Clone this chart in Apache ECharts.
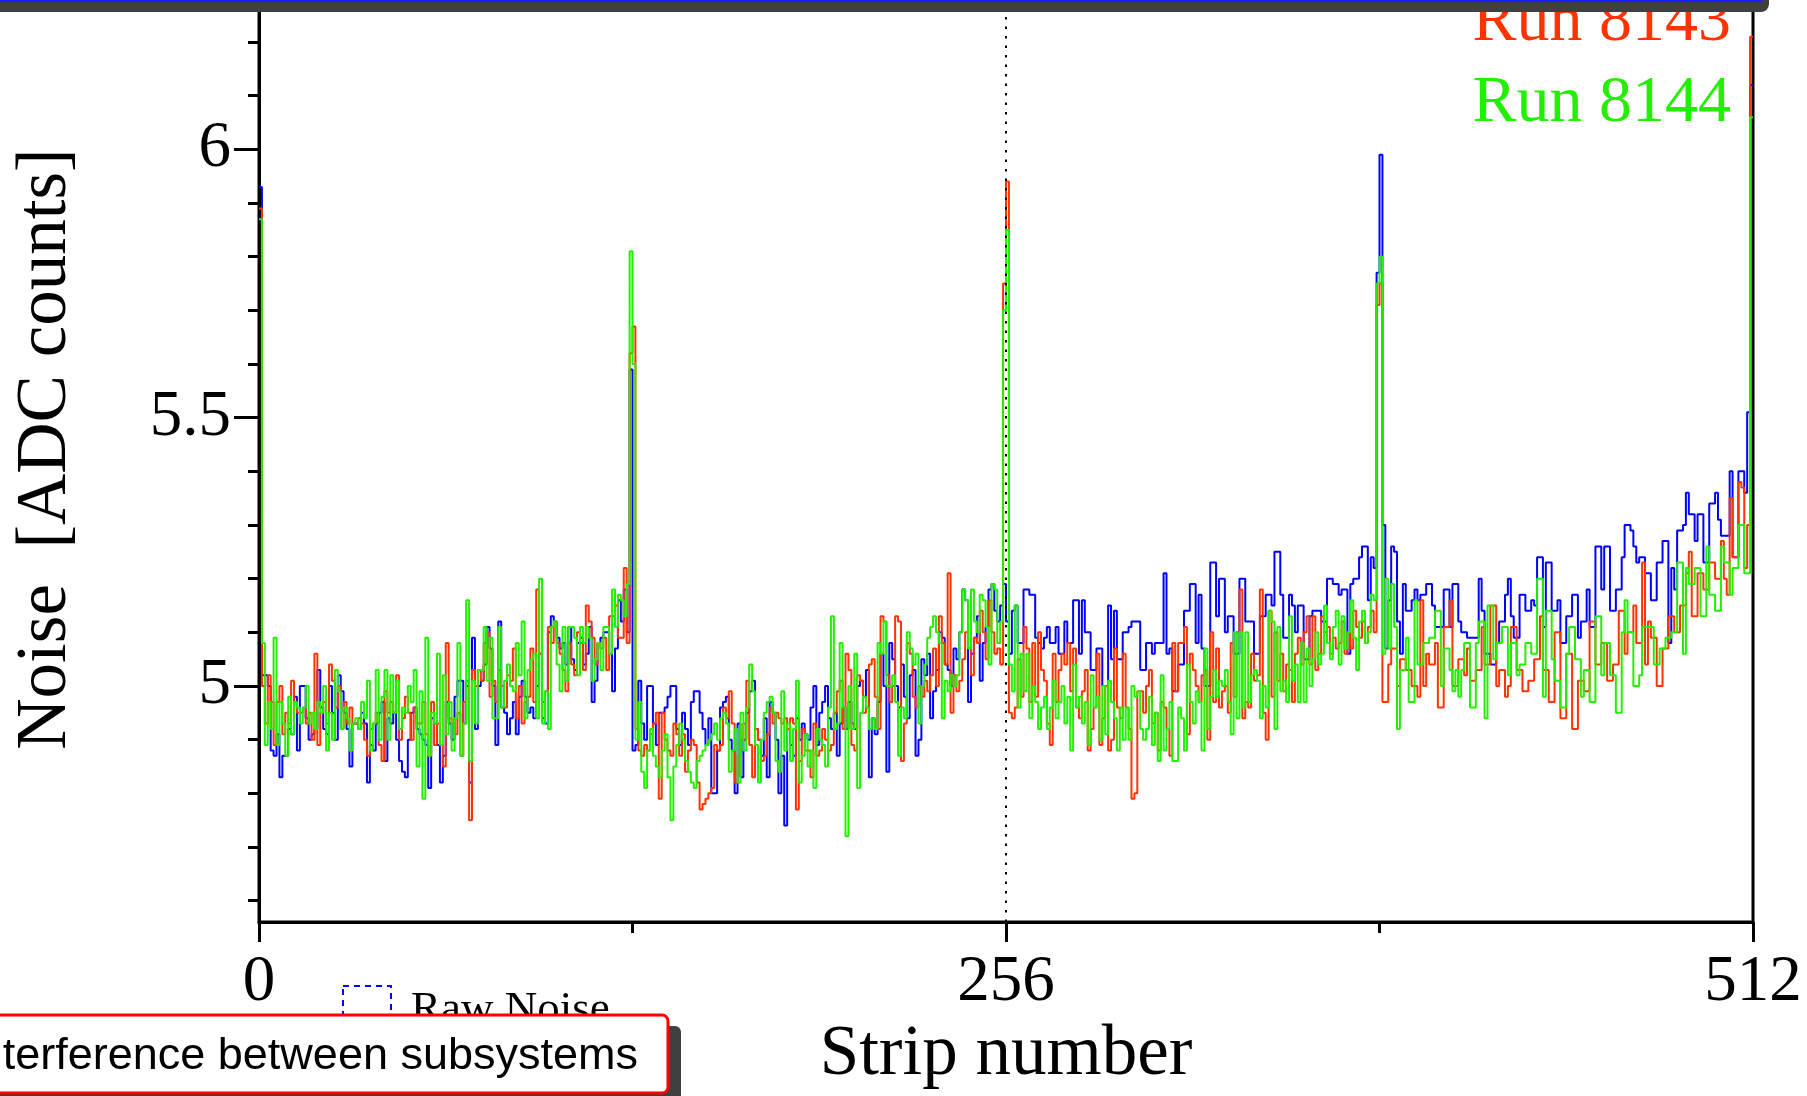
<!DOCTYPE html>
<html><head><meta charset="utf-8">
<script src="https://cdn.jsdelivr.net/npm/echarts@6/dist/echarts.min.js"></script>
<style>html,body{margin:0;padding:0;background:#fff;overflow:hidden}#c{width:1807px;height:1096px}</style>
</head><body><div id="c"></div>
<script>
// ---- data: noise per strip (bins 0..511) ----
const xTickValues = [0, 256, 512];
const yTickValues = [5, 5.5, 6];
const yMinorTickValues = [4.6, 4.7, 4.8, 4.9, 5.1, 5.2, 5.3, 5.4, 5.6, 5.7, 5.8, 5.9, 6.1, 6.2];
const seriesNames = ['Raw Noise', 'Run 8143', 'Run 8144'];
const seriesColors = ['#0000ff', '#ff3300', '#22f000'];

const rawNoise = [
5.93,5.02,5.02,5.00,4.88,4.87,4.91,4.83,4.87,4.87,
4.92,4.91,4.98,4.88,5.00,5.00,4.94,4.90,4.91,4.92,
5.03,4.96,4.92,4.91,5.00,4.95,4.90,5.02,4.99,4.95,
4.92,4.85,4.93,4.93,4.92,4.95,4.93,4.82,4.89,4.88,
4.93,4.95,4.97,4.86,4.94,4.93,4.95,4.90,4.86,4.84,
4.83,4.90,4.95,4.96,4.92,4.91,4.90,4.89,4.81,4.94,
4.93,4.89,4.82,4.87,4.97,4.93,4.90,4.98,5.01,5.01,
4.93,5.00,4.82,5.09,4.92,5.00,5.01,5.04,5.11,5.07,
5.00,4.89,5.12,4.96,4.95,4.91,4.94,4.97,4.91,4.98,
5.01,4.98,4.95,4.96,4.94,5.00,5.06,4.94,4.93,5.10,
5.13,5.12,5.09,5.07,5.08,5.04,5.11,5.05,5.03,5.08,
5.09,5.04,5.06,5.11,4.97,5.01,5.08,5.09,5.10,5.10,
5.06,4.99,5.07,5.16,5.12,5.18,5.10,5.59,4.88,4.89,
5.01,4.93,4.90,5.00,5.00,4.93,4.89,4.95,4.95,4.96,
4.98,5.00,5.00,4.92,4.89,4.95,4.92,4.89,4.97,4.99,
4.99,4.95,4.92,4.89,4.94,4.80,4.80,4.88,4.96,4.97,
4.98,4.90,4.88,4.80,4.93,4.83,4.90,4.95,4.99,5.01,
4.92,4.90,4.87,4.94,4.83,4.97,4.95,4.90,4.80,4.87,
4.74,4.92,4.89,4.87,4.94,4.90,4.93,4.91,4.90,4.96,
5.00,4.89,4.95,4.97,5.00,4.94,4.92,4.95,4.87,4.93,
4.96,4.92,4.97,4.93,4.92,5.00,5.01,4.98,5.03,4.83,
4.94,4.91,4.97,5.06,5.00,4.84,5.08,5.05,5.00,4.96,
5.04,4.98,4.94,5.02,5.03,4.87,4.90,5.05,5.02,5.06,
4.94,4.99,5.03,5.10,5.09,5.04,5.03,5.00,5.07,5.05,
5.10,5.18,5.16,4.97,5.06,5.09,5.13,5.01,5.08,5.11,
5.18,5.19,5.14,5.12,5.15,5.19,5.12,5.06,5.14,5.15,
5.08,5.08,5.18,5.18,5.17,5.17,5.09,5.08,5.07,5.09,
5.11,5.08,5.08,5.11,5.06,5.06,5.12,5.08,5.08,5.16,
5.16,5.06,5.16,5.10,5.10,5.03,5.03,5.07,5.07,5.00,
5.00,5.15,5.05,5.14,5.05,5.05,5.10,5.10,5.11,5.12,
5.12,5.12,5.03,5.03,5.08,5.08,5.06,5.08,5.08,5.08,
5.21,5.06,5.07,4.99,4.99,5.04,5.04,5.14,5.14,5.19,
5.19,5.08,5.17,5.07,5.00,5.00,5.23,5.23,5.13,5.20,
5.20,5.10,5.13,5.13,5.06,5.06,5.20,5.20,5.12,5.12,
5.12,5.06,5.06,5.13,5.13,5.17,5.17,5.15,5.25,5.25,
5.17,5.09,5.09,5.17,5.15,5.10,5.15,5.15,5.05,5.05,
5.13,5.14,5.14,5.14,5.12,5.12,5.20,5.20,5.19,5.19,
5.17,5.18,5.18,5.06,5.19,5.20,5.20,5.24,5.26,5.26,
5.16,5.24,5.22,5.77,5.99,5.30,5.07,5.16,5.26,5.25,
5.12,5.06,5.19,5.14,5.14,5.16,5.18,5.16,5.17,5.17,
5.19,5.19,5.15,5.11,5.11,5.11,5.18,5.18,5.11,5.19,
5.19,5.12,5.10,5.10,5.09,5.09,5.09,5.09,5.20,5.14,
5.06,5.06,5.04,5.04,5.08,5.12,5.12,5.17,5.20,5.13,
5.09,5.09,5.17,5.17,5.14,5.14,5.16,5.15,5.24,5.24,
5.11,5.23,5.23,5.14,5.14,5.16,5.08,5.08,5.13,5.13,
5.17,5.17,5.09,5.12,5.12,5.18,5.11,5.11,5.26,5.26,
5.18,5.26,5.26,5.14,5.14,5.18,5.18,5.24,5.30,5.30,
5.29,5.26,5.23,5.24,5.24,5.21,5.21,5.16,5.16,5.23,
5.23,5.27,5.27,5.08,5.22,5.18,5.29,5.29,5.30,5.36,
5.32,5.32,5.27,5.32,5.32,5.23,5.23,5.34,5.34,5.36,
5.31,5.28,5.28,5.28,5.40,5.24,5.24,5.40,5.40,5.36,
5.51,6.12];

const run8143 = [
5.89,5.00,4.93,5.02,4.97,4.89,4.97,5.00,4.91,4.95,
4.93,5.01,4.97,4.95,4.95,4.96,4.93,4.95,4.90,5.06,
4.89,4.95,4.97,4.93,5.04,5.01,4.96,5.00,4.92,4.97,
4.93,4.96,4.93,4.93,4.94,4.93,4.90,4.87,4.92,4.93,
4.95,4.89,4.86,4.99,4.95,4.97,4.95,5.02,4.90,4.94,
4.98,4.95,4.90,4.96,4.93,4.93,4.97,4.91,4.87,4.97,
4.89,4.93,4.89,4.85,5.08,4.94,4.93,4.91,4.95,4.87,
4.97,5.01,4.75,5.03,5.00,5.03,5.01,5.08,5.10,4.98,
5.01,4.97,5.03,5.00,4.96,5.02,5.01,5.07,4.94,5.00,
4.93,4.97,4.98,5.07,4.97,5.18,5.06,4.97,4.99,5.11,
5.08,5.12,5.08,5.06,5.03,4.99,5.08,5.04,5.02,5.10,
5.08,5.03,5.15,5.12,5.09,5.04,5.08,5.07,5.09,5.03,
5.13,5.13,5.15,5.09,5.09,5.22,5.08,5.62,5.67,4.92,
4.88,4.87,4.89,4.88,4.91,4.93,4.95,4.79,4.95,4.90,
4.88,4.87,4.93,4.91,4.87,4.91,4.84,4.88,4.90,4.89,
4.82,4.77,4.78,4.79,4.80,4.81,4.89,4.88,4.89,4.96,
4.94,4.99,4.93,4.82,4.87,4.90,4.93,5.01,4.89,4.83,
4.92,4.90,4.86,4.87,4.91,4.96,4.93,4.95,4.94,4.93,
4.94,4.92,4.94,4.93,4.77,4.86,4.92,4.88,4.88,4.83,
4.93,4.87,4.88,4.92,4.90,4.88,4.89,4.95,4.99,5.01,
4.92,5.06,5.03,4.89,4.88,5.02,5.01,4.95,4.96,5.04,
5.05,4.98,4.92,5.13,5.12,5.02,4.97,5.00,5.13,5.12,
4.86,4.93,5.08,5.06,4.98,4.96,5.00,4.98,5.01,4.99,
5.02,5.07,5.00,5.13,5.08,5.04,5.21,4.95,5.02,4.99,
5.01,5.05,5.10,5.07,5.02,5.09,5.08,5.14,5.10,5.05,
5.16,5.10,5.06,5.07,5.04,5.75,5.94,4.95,4.94,4.96,
5.05,4.98,5.11,5.07,4.97,5.08,4.98,5.10,5.03,5.01,
4.93,4.89,5.06,4.97,5.03,5.06,5.04,5.08,4.99,5.07,
4.96,4.94,4.99,5.03,4.88,4.92,4.96,5.06,4.89,4.94,
5.00,4.88,4.90,5.07,4.96,4.94,5.06,4.96,4.92,4.79,
4.80,4.99,4.99,4.95,5.00,5.03,4.93,4.95,4.88,4.97,
4.96,4.92,4.87,5.08,4.99,5.08,5.08,5.11,4.91,5.06,
5.03,5.00,4.97,5.02,5.03,4.90,5.10,4.97,5.07,4.96,
4.99,5.00,4.95,5.08,4.98,5.10,5.18,4.94,4.97,4.96,
5.06,5.01,5.02,5.18,4.95,4.90,5.14,4.98,5.10,5.01,
5.06,4.99,5.04,5.03,4.97,5.06,5.09,5.04,5.10,5.13,
5.04,5.13,5.03,5.06,5.13,5.10,5.11,5.06,5.09,5.07,
5.08,5.12,5.06,5.10,5.07,5.14,5.11,5.09,5.12,5.08,
5.11,5.14,5.10,5.71,5.75,4.97,4.97,5.04,5.07,5.07,
5.00,5.05,5.05,5.03,5.03,5.00,5.00,4.98,5.16,5.00,
5.06,5.04,5.04,5.08,4.96,4.96,5.11,5.11,5.16,5.00,
5.00,5.05,5.05,5.02,5.07,5.01,5.01,5.03,5.03,5.11,
5.04,5.04,5.15,5.15,5.00,5.03,5.03,4.98,5.00,5.11,
5.11,5.03,5.03,4.99,4.99,5.01,5.01,5.05,5.05,5.13,
5.03,5.03,4.97,4.97,5.10,5.10,4.94,4.94,5.06,5.06,
4.92,4.92,5.01,5.01,4.99,4.99,5.12,5.12,5.04,5.04,
5.08,5.08,5.01,5.01,5.04,5.04,5.14,5.14,5.06,5.10,
5.10,5.15,5.08,5.08,5.23,5.04,5.12,5.09,5.09,5.00,
5.00,5.07,5.07,5.13,5.13,5.10,5.10,5.15,5.15,5.21,
5.25,5.13,5.13,5.21,5.21,5.18,5.18,5.23,5.23,5.20,
5.20,5.27,5.20,5.17,5.35,5.24,5.24,5.38,5.37,5.22,
5.30,6.21];

const run8144 = [
5.87,5.08,4.89,4.97,4.92,5.09,4.89,4.97,4.93,4.87,
4.98,4.91,4.97,4.96,4.93,4.96,5.00,4.93,4.95,4.92,
4.97,4.95,5.00,4.88,4.95,4.90,5.03,4.99,4.92,4.96,
4.94,4.88,4.93,4.94,4.92,4.97,4.94,5.01,4.88,4.93,
5.03,4.90,4.98,5.03,4.90,5.02,4.95,5.01,4.92,4.96,
4.95,5.00,4.97,5.03,4.85,4.99,4.79,5.09,4.87,4.95,
4.93,5.06,4.89,5.02,4.91,4.97,4.88,4.94,5.08,4.87,
4.93,5.16,4.86,5.01,4.93,5.03,5.03,5.11,5.01,5.09,
4.94,4.94,5.11,4.96,5.01,5.04,5.00,4.99,5.08,5.02,
5.12,4.94,5.03,5.05,5.06,4.94,5.20,4.93,4.99,4.92,
5.11,5.12,5.04,4.99,5.11,5.01,5.11,5.11,5.09,5.02,
5.11,5.08,5.11,5.09,5.01,5.05,5.08,5.03,5.11,5.11,
5.06,5.18,5.11,5.17,5.16,5.13,5.19,5.81,5.60,4.90,
4.97,4.84,4.81,4.88,4.92,4.87,4.85,4.83,4.88,4.91,
4.83,4.75,4.85,4.89,4.93,4.90,4.86,4.84,4.82,4.81,
4.86,4.87,4.88,4.89,4.90,4.91,4.93,4.90,4.94,4.95,
4.93,4.84,4.88,4.92,4.82,4.95,4.88,4.96,5.04,4.99,
4.89,4.82,4.90,4.95,4.97,4.98,4.95,4.86,4.84,4.99,
4.88,4.93,4.86,4.92,5.01,4.82,4.87,4.91,4.85,4.88,
4.81,4.92,4.90,4.89,4.85,4.96,5.13,4.92,4.93,5.08,
4.96,4.72,5.00,4.92,5.06,4.81,4.95,4.98,4.96,4.92,
4.94,4.92,5.08,5.06,5.12,5.00,5.00,5.02,4.97,4.87,
4.96,4.94,5.10,5.07,5.04,5.06,4.93,5.00,5.04,5.09,
5.11,5.13,5.10,5.08,4.94,5.01,4.99,5.02,5.00,5.02,
5.10,5.18,5.16,5.07,5.18,5.12,5.10,5.17,5.16,5.11,
5.04,5.19,5.18,5.08,5.12,5.70,5.85,5.04,4.99,5.15,
4.96,5.06,4.99,5.06,4.94,5.00,4.97,4.92,4.96,4.98,
4.92,4.96,5.01,4.94,4.97,5.00,4.93,4.98,4.88,5.04,
4.96,4.98,4.93,4.97,4.89,5.02,4.96,4.98,4.90,5.00,
4.91,5.01,4.97,4.94,4.88,4.96,4.90,4.96,4.90,5.00,
4.98,4.99,4.92,4.90,4.92,4.98,4.89,4.95,4.86,5.02,
4.88,4.92,4.97,4.86,4.86,4.96,4.94,4.88,5.04,4.97,
4.93,4.99,4.97,4.88,5.07,4.92,4.98,5.03,4.98,5.01,
5.00,5.03,4.97,4.91,5.10,4.94,5.10,4.96,5.10,4.97,
5.02,5.03,5.01,4.94,5.00,4.96,5.14,5.12,4.92,5.11,
4.99,5.01,4.97,5.13,5.01,5.04,4.97,5.08,4.97,5.07,
5.00,5.05,5.10,5.04,5.06,5.15,5.08,5.05,5.11,5.14,
5.04,5.13,5.07,5.10,5.16,5.09,5.03,5.12,5.14,5.08,
5.10,5.17,5.16,5.75,5.80,5.06,5.20,5.07,5.19,5.11,
4.92,5.03,5.03,5.09,4.97,4.97,5.16,5.04,5.04,5.08,
5.08,5.09,5.09,5.14,5.14,5.00,5.07,5.07,5.03,4.99,
5.03,4.98,5.03,5.08,5.08,4.96,4.96,5.08,5.12,5.12,
4.94,5.15,5.15,5.05,5.08,5.08,5.11,5.11,5.02,5.08,
5.08,5.02,5.04,5.04,5.08,5.08,5.06,5.06,5.20,5.20,
4.98,5.14,5.14,5.05,5.01,5.01,4.96,4.96,5.06,5.11,
5.11,5.05,5.05,4.98,5.03,5.03,4.97,4.97,5.13,5.13,
5.02,5.08,5.08,5.02,5.02,4.95,4.95,5.10,5.16,5.10,
5.10,5.00,5.00,5.02,5.11,5.11,5.11,5.11,5.04,5.04,
5.07,5.07,5.09,5.09,5.10,5.10,5.23,5.23,5.06,5.22,
5.19,5.19,5.22,5.22,5.13,5.13,5.26,5.17,5.17,5.14,
5.14,5.26,5.23,5.23,5.17,5.22,5.22,5.30,5.30,5.21,
5.21,6.06];

// histogram outline: value of bin i spans [i, i+1)
function toSteps(values) {
  const pts = values.map((v, i) => [i, v]);
  pts.push([values.length, values[values.length - 1]]);
  return pts;
}
const allSeries = [rawNoise, run8143, run8144];

const serif = '"Liberation Serif", "Times New Roman", serif';
const Y_MIN = 4.56, Y_MAX = 6.27;
const chart = echarts.init(document.getElementById('c'), null, {renderer: 'canvas'});
const option = {
  animation: false,
  backgroundColor: '#ffffff',
  grid: {left: 259, right: 54, top: 4.5, bottom: 171, show: true,
         borderColor: '#000', borderWidth: 3, backgroundColor: 'transparent'},
  xAxis: {
    type: 'value', min: 0, max: 512, interval: 256,
    axisLine: {show: true, onZero: false, lineStyle: {color: '#000', width: 3}},
    axisTick: {show: true, length: 20, lineStyle: {color: '#000', width: 3}},
    minorTick: {show: true, splitNumber: 2, length: 11, lineStyle: {color: '#000', width: 3}},
    splitLine: {show: false}, minorSplitLine: {show: false},
    axisLabel: {fontFamily: serif, fontSize: 65, color: '#000', margin: 28,
                customValues: xTickValues},
    name: 'Strip number', nameLocation: 'middle', nameGap: 97,
    nameTextStyle: {fontFamily: serif, fontSize: 71, color: '#000'}
  },
  yAxis: [{
    type: 'value', min: Y_MIN, max: Y_MAX, splitNumber: 4,
    axisLine: {show: true, onZero: false, lineStyle: {color: '#000', width: 3}},
    axisTick: {show: true, length: 25, customValues: yTickValues, lineStyle: {color: '#000', width: 3}},
    minorTick: {show: false},
    splitLine: {show: false}, minorSplitLine: {show: false},
    axisLabel: {fontFamily: serif, fontSize: 65, color: '#000', margin: 28,
                customValues: yTickValues}
  }, {
    type: 'value', min: Y_MIN, max: Y_MAX, position: 'left', offset: 0,
    axisLine: {show: false, onZero: false},
    axisTick: {show: true, length: 11, customValues: yMinorTickValues, lineStyle: {color: '#000', width: 3}},
    axisLabel: {show: false},
    splitLine: {show: false}
  }],
  series: allSeries.map((vals, k) => ({
    name: seriesNames[k], type: 'line', step: 'end', data: toSteps(vals), yAxisIndex: 0,
    showSymbol: false, symbol: 'none', clip: true,
    lineStyle: {color: seriesColors[k], width: 2},
    itemStyle: {color: seriesColors[k]},
    markLine: k === 0 ? {
      silent: true, symbol: ['none', 'none'], label: {show: false},
      lineStyle: {color: '#000', width: 2, type: [2.5, 7]},
      data: [{xAxis: 256}]
    } : undefined
  })),
  graphic: [
    {type: 'text', x: 46, y: 449, rotation: Math.PI / 2, z: 50,
     style: {text: 'Noise  [ADC counts]', font: '71px ' + serif, fill: '#000', align: 'center', verticalAlign: 'middle'}},
    {type: 'text', x: 1731, y: 23, z: 50,
     style: {text: 'Run 8143', font: '66px ' + serif, fill: '#ff3300', align: 'right', verticalAlign: 'middle'}},
    {type: 'text', x: 1731, y: 104, z: 50,
     style: {text: 'Run 8144', font: '66px ' + serif, fill: '#22f000', align: 'right', verticalAlign: 'middle'}},
    {type: 'rect', z: 100, shape: {x: -10, y: -10, width: 1779, height: 22, r: [0, 0, 8, 0]},
     style: {fill: '#404040'}},
    {type: 'rect', z: 101, shape: {x: 0, y: 0, width: 1762, height: 2}, style: {fill: '#1a1aff'}},
    {type: 'rect', z: 50, shape: {x: 343, y: 986, width: 48, height: 50},
     style: {fill: 'none', stroke: '#0000ff', lineWidth: 2, lineDash: [6, 5]}},
    {type: 'text', x: 411, y: 1010, z: 50,
     style: {text: 'Raw Noise', font: '45px ' + serif, fill: '#000', align: 'left', verticalAlign: 'middle'}},
    {type: 'rect', z: 60, shape: {x: -20, y: 1026, width: 701, height: 100, r: 6},
     style: {fill: '#404040'}},
    {type: 'rect', z: 70, shape: {x: -20, y: 1015, width: 688, height: 78, r: 6},
     style: {fill: '#ffffff', stroke: '#ff0000', lineWidth: 3}},
    {type: 'text', x: 638, y: 1057, z: 80,
     style: {text: 'Interference between subsystems', font: '45px "Liberation Sans", Arial, sans-serif',
             fill: '#000', align: 'right', verticalAlign: 'middle'}}
  ]
};
chart.setOption(option);
</script>
</body></html>
